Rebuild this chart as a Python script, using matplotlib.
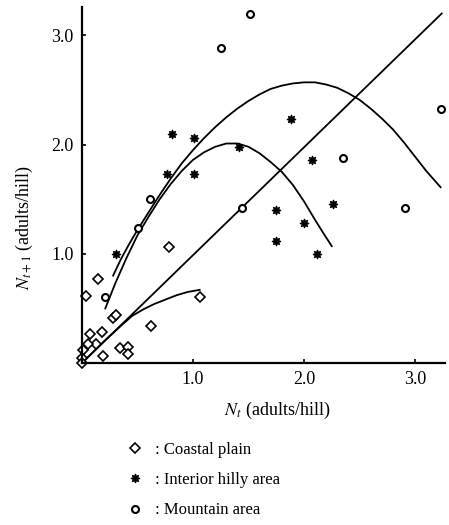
import matplotlib
matplotlib.use('Agg')
import matplotlib.pyplot as plt

plt.rcParams['font.family'] = ['Liberation Serif', 'DejaVu Serif']
plt.rcParams['mathtext.fontset'] = 'stix'

# Coastal plain (open diamonds)
coastal_x = [0.78, 1.06, 0.04, 0.14, 0.62, 0.28, 0.31, 0.07, 0.18, 0.13, 0.05,
             0.01, 0.00, 0.00, 0.19, 0.34, 0.41, 0.41]
coastal_y = [1.06, 0.60, 0.61, 0.77, 0.34, 0.41, 0.44, 0.27, 0.28, 0.17, 0.17,
             0.12, 0.05, 0.00, 0.06, 0.14, 0.15, 0.08]

# Interior hilly area (filled stars)
interior_x = [0.31, 0.81, 1.01, 0.77, 1.01, 1.41, 1.88, 2.07, 2.26, 1.75, 2.00, 1.75, 2.12]
interior_y = [1.00, 2.10, 2.06, 1.73, 1.73, 1.98, 2.23, 1.86, 1.46, 1.40, 1.28, 1.12, 1.00]

# Mountain area (open circles)
mountain_x = [1.51, 1.25, 3.23, 2.35, 2.91, 1.44, 0.61, 0.50, 0.21]
mountain_y = [3.20, 2.88, 2.33, 1.88, 1.42, 1.42, 1.50, 1.24, 0.60]

# fitted curves
big_x = [0.28, 0.35, 0.42, 0.50, 0.60, 0.70, 0.80, 0.90, 1.00, 1.10, 1.20, 1.30,
         1.40, 1.50, 1.60, 1.70, 1.80, 1.90, 2.00, 2.10, 2.20, 2.30, 2.40, 2.50,
         2.60, 2.70, 2.80, 2.90, 3.00, 3.10, 3.23]
big_y = [0.80, 0.95, 1.08, 1.22, 1.38, 1.54, 1.69, 1.83, 1.95, 2.06, 2.16, 2.25,
         2.33, 2.40, 2.46, 2.51, 2.54, 2.56, 2.57, 2.57, 2.55, 2.52, 2.47, 2.41,
         2.33, 2.24, 2.14, 2.02, 1.89, 1.76, 1.61]

mid_x = [0.21, 0.30, 0.40, 0.50, 0.60, 0.70, 0.80, 0.90, 1.00, 1.10, 1.20, 1.30,
         1.40, 1.50, 1.60, 1.70, 1.80, 1.90, 2.00, 2.10, 2.18, 2.25]
mid_y = [0.50, 0.73, 0.96, 1.17, 1.34, 1.50, 1.64, 1.76, 1.86, 1.93, 1.98, 2.01,
         2.01, 1.98, 1.92, 1.84, 1.75, 1.63, 1.48, 1.31, 1.18, 1.07]

small_x = [0.00, 0.20, 0.35, 0.45, 0.55, 0.65, 0.75, 0.85, 0.95, 1.06]
small_y = [0.00, 0.20, 0.34, 0.43, 0.49, 0.54, 0.58, 0.62, 0.65, 0.67]

diag_x = [0.0, 3.24]
diag_y = [0.0, 3.20]

fig = plt.figure(figsize=(4.49, 5.25), dpi=100)
ax = fig.add_axes([82 / 449, 1 - 363 / 525, 363 / 449, 356 / 525])

lw = 1.3
for cx, cy in [(diag_x, diag_y), (big_x, big_y), (mid_x, mid_y), (small_x, small_y)]:
    ax.plot(cx, cy, color='black', lw=lw, solid_joinstyle='round')

ax.plot(coastal_x, coastal_y, ls='none', marker='D', ms=5, mfc='white',
        mec='black', mew=1.2, clip_on=False, label=': Coastal plain')
ax.plot(interior_x, interior_y, ls='none', marker=(8, 1, 0), ms=6.5, mfc='black',
        mec='black', mew=0.8, clip_on=False, label=': Interior hilly area')
ax.plot(mountain_x, mountain_y, ls='none', marker='o', ms=5, mfc='white',
        mec='black', mew=1.5, clip_on=False, label=': Mountain area')

ax.set_xlim(0, 3.27)
ax.set_ylim(0, 3.26)
ax.set_xticks([1.0, 2.0, 3.0])
ax.set_yticks([1.0, 2.0, 3.0])
ax.set_xticklabels(['1.0', '2.0', '3.0'])
ax.set_yticklabels(['1.0', '2.0', '3.0'])
ax.tick_params(direction='in', length=3, width=1.2, labelsize=13, pad=6)
for s in ['top', 'right']:
    ax.spines[s].set_visible(False)
for s in ['left', 'bottom']:
    ax.spines[s].set_linewidth(1.6)

fig.text(277 / 449, 1 - 410 / 525, r'$N_t$ (adults/hill)', ha='center',
         va='center', fontsize=13)
fig.text(24 / 449, 1 - 228 / 525, r'$N_{t+1}$ (adults/hill)', ha='center',
         va='center', rotation=90, fontsize=13)

fig.legend(loc='upper left', bbox_to_anchor=(127 / 449, 1 - 442 / 525),
           frameon=False, fontsize=12, handlelength=1.0, handletextpad=0.7,
           labelspacing=0.85, borderpad=0, borderaxespad=0)

fig.savefig('out.png', dpi=100)
